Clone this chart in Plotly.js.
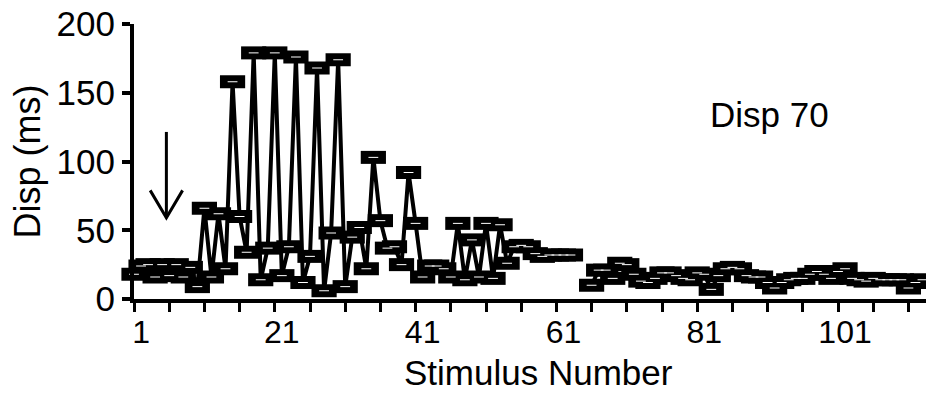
<!DOCTYPE html>
<html>
<head>
<meta charset="utf-8">
<script src="https://cdn.plot.ly/plotly-3.0.1.min.js"></script>
<style>
  html, body { margin: 0; padding: 0; background: #ffffff; }
  #chart { width: 926px; height: 394px; }
</style>
</head>
<body>
<div id="chart"></div>
<script>
// ---- data ----
const stimulus = [
  0, 1, 2, 3, 4, 5, 6, 7, 8, 9,
  10, 11, 12, 13, 14, 15, 16, 17, 18, 19,
  20, 21, 22, 23, 24, 25, 26, 27, 28, 29,
  30, 31, 32, 33, 34, 35, 36, 37, 38, 39,
  40, 41, 42, 43, 44, 45, 46, 47, 48, 49,
  50, 51, 52, 53, 54, 55, 56, 57, 58, 59,
  60, 61, 62, 63, 64, 65, 66, 67, 68, 69,
  70, 71, 72, 73, 74, 75, 76, 77, 78, 79,
  80, 81, 82, 83, 84, 85, 86, 87, 88, 89,
  90, 91, 92, 93, 94, 95, 96, 97, 98, 99,
  100, 101, 102, 103, 104, 105, 106, 107, 108, 109,
  110, 111, 112
];
const dispMs = [
  18, 24, 25, 16, 25, 17, 25, 16, 23, 9,
  66, 16, 62, 22, 158, 60, 34, 179, 14, 37,
  179, 17, 38, 176, 12, 31, 168, 6, 48, 174,
  9, 45, 52, 22, 103, 57, 37, 38, 25, 92,
  55, 16, 24, 24, 22, 16, 55, 14, 43, 16,
  55, 15, 54, 26, 38, 39, 38, 33, 31, 32,
  32, 32, 32, null, null, 10, 21, 21, 15, 26,
  25, 18, 13, 12, 15, 19, 19, 17, 15, 14,
  19, 18, 7, 17, 22, 23, 22, 17, 16, 16,
  12, 8, 12, 14, 15, 15, 18, 20, 18, 15,
  20, 22, 15, 14, 13, 15, 14, 14, 14, 14,
  8, 12, 14
];
const xTickVals = [1, 21, 41, 61, 81, 101];
const xTickText = ["1", "21", "41", "61", "81", "101"];
const yTickVals = [0, 50, 100, 150, 200];
const yTickText = ["0", "50", "100", "150", "200"];
const xTitle = "Stimulus Number";
const yTitle = "Disp (ms)";
const panelLabel = "Disp 70";

// ---- traces ----
const lineTrace = {
  x: stimulus, y: dispMs, type: "scatter", mode: "lines",
  line: { color: "#000000", width: 4 },
  connectgaps: false, cliponaxis: false, hoverinfo: "skip", showlegend: false
};
const markerTrace = {
  x: stimulus, y: dispMs, type: "scatter", mode: "markers",
  marker: { symbol: "line-ew", size: 18, color: "#000000",
            line: { color: "#000000", width: 13 } },
  cliponaxis: false, showlegend: false
};
const markerDetail = {
  x: stimulus, y: dispMs, type: "scatter", mode: "markers",
  marker: { symbol: "line-ew", size: 7, color: "#ffffff",
            line: { color: "#ffffff", width: 1 } },
  cliponaxis: false, hoverinfo: "skip", showlegend: false
};

const fontFam = "Liberation Sans, Arial, Helvetica, sans-serif";

const layout = {
  width: 926, height: 394,
  margin: { l: 134, r: 0, t: 24, b: 95 },
  paper_bgcolor: "#ffffff", plot_bgcolor: "#ffffff",
  font: { family: fontFam, color: "#000000" },
  showlegend: false,
  xaxis: {
    range: [0, 112.5],
    tickmode: "array", tickvals: xTickVals, ticktext: xTickText,
    ticks: "outside", ticklen: 2, tickcolor: "rgba(0,0,0,0)",
    tickfont: { size: 32, family: fontFam, color: "#000000" },
    minor: { tickmode: "linear", tick0: 0, dtick: 5, ticks: "outside",
             ticklen: 9, tickwidth: 3, tickcolor: "#000000", showgrid: false },
    showline: true, linewidth: 4, linecolor: "#000000",
    showgrid: false, zeroline: false
  },
  yaxis: {
    range: [0, 200],
    tickmode: "array", tickvals: yTickVals, ticktext: yTickText,
    ticks: "outside", ticklen: 8, tickwidth: 4, tickcolor: "#000000",
    tickfont: { size: 35, family: fontFam, color: "#000000" },
    showline: true, linewidth: 4, linecolor: "#000000",
    showgrid: false, zeroline: false,
    title: { text: yTitle, font: { size: 36, family: fontFam, color: "#000000" }, standoff: 6 }
  },
  annotations: [
    { text: xTitle, xref: "paper", yref: "paper", x: 0.511, y: -0.268,
      xanchor: "center", yanchor: "middle", showarrow: false,
      font: { size: 35, family: fontFam, color: "#000000" } },
    { text: panelLabel, xref: "x", yref: "y", x: 90.2, y: 134,
      showarrow: false, font: { size: 35, family: fontFam, color: "#000000" } }
  ],
  shapes: [
    { type: "path", xref: "x", yref: "y", path: "M 4.6,121.5 L 4.6,60",
      line: { color: "#000000", width: 3 } },
    { type: "path", xref: "x", yref: "y", path: "M 2.3,79 L 4.6,59 L 6.9,79",
      line: { color: "#000000", width: 3 } }
  ]
};

Plotly.newPlot("chart", [lineTrace, markerTrace, markerDetail], layout,
  { displayModeBar: false, staticPlot: true });
</script>
</body>
</html>
